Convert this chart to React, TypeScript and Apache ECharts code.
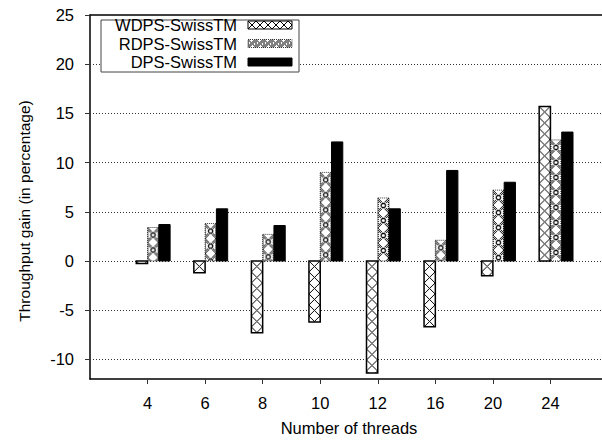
import React, { useEffect, useRef } from "react";
import * as echarts from "echarts";

// Thread counts on the x axis and throughput gain (%) for each variant
const THREADS = ["4", "6", "8", "10", "12", "16", "20", "24"];
const WDPS = [-0.25, -1.2, -7.3, -6.2, -11.4, -6.7, -1.5, 15.7];
const RDPS = [3.4, 3.8, 2.7, 9.0, 6.4, 2.1, 7.2, 12.3];
const DPS = [3.7, 5.3, 3.6, 12.1, 5.3, 9.2, 8.0, 13.1];
const SERIES_NAMES = ["WDPS-SwissTM", "RDPS-SwissTM", "DPS-SwissTM"];
const Y_TICKS = [-10, -5, 0, 5, 10, 15, 20, 25];
const GRID_LINES = [-10, -5, 0, 5, 10, 15, 20];

const FONT = "'Liberation Sans', Arial, Helvetica, sans-serif";
const BAR_SPAN = 0.196; // width of one bar, in category units

// Crisp one-pixel X hatch tile
function crossHatch(w: number, h: number) {
  const c = document.createElement("canvas");
  c.width = w;
  c.height = h;
  const g = c.getContext("2d")!;
  g.fillStyle = "#fff";
  g.fillRect(0, 0, w, h);
  g.fillStyle = "#000";
  for (let i = 0; i < h; i++) {
    const x = Math.round((i / (h - 1)) * (w - 1));
    g.fillRect(x, i, 1, 1);
    g.fillRect(w - 1 - x, i, 1, 1);
  }
  return { image: c, repeat: "repeat" as const };
}

// Dithered dot tile with a small ring in its middle
function dottedRing(w: number, h: number, ring: boolean) {
  const c = document.createElement("canvas");
  c.width = w;
  c.height = h;
  const g = c.getContext("2d")!;
  g.fillStyle = "#fff";
  g.fillRect(0, 0, w, h);
  g.fillStyle = "#000";
  for (let y = 0; y < h; y++) {
    for (let x = 0; x < w; x++) {
      if ((x + y) % 2 === 0) {
        const d1 = Math.abs(x - (y * (w - 1)) / (h - 1));
        const d2 = Math.abs(w - 1 - x - (y * (w - 1)) / (h - 1));
        if (d1 < 2 || d2 < 2 || x === 0 || x === w - 1) g.fillRect(x, y, 1, 1);
      }
    }
  }
  if (ring) {
    g.fillStyle = "#fff";
    g.beginPath();
    g.arc(w / 2, h / 2, 3.2, 0, Math.PI * 2);
    g.fill();
    g.strokeStyle = "#000";
    g.lineWidth = 1.2;
    g.beginPath();
    g.arc(w / 2, h / 2, 2.2, 0, Math.PI * 2);
    g.stroke();
  }
  return { image: c, repeat: "repeat" as const };
}

export default function App() {
  const ref = useRef<HTMLDivElement>(null);

  useEffect(() => {
    if (!ref.current) return;
    const chart = echarts.init(ref.current, undefined, { renderer: "svg" });

    const hatch = crossHatch(11, 11);
    const dots = dottedRing(11, 15, true);
    const hatchSmall = crossHatch(8, 8);
    const dotsSmall = dottedRing(8, 8, false);

    const styles: any[] = [
      { fill: hatch, stroke: "#000", lineWidth: 1.5 },
      { fill: dots, stroke: "#333", lineWidth: 1, lineDash: [1, 1] },
      { fill: "#000", stroke: "#000", lineWidth: 1 },
    ];

    const makeRender = (slot: number) => (_params: any, api: any) => {
      const xi = api.value(0);
      const v = api.value(1);
      const base = api.coord([xi, 0]);
      const tip = api.coord([xi, v]);
      const w = api.size([BAR_SPAN, 0])[0];
      const left = base[0] + (slot - 1) * w;
      const top = Math.min(base[1], tip[1]);
      const h = Math.abs(base[1] - tip[1]);
      return {
        type: "rect",
        x: left,
        y: top,
        shape: { x: 0, y: 0, width: w, height: h },
        style: styles[slot],
      };
    };

    const toData = (vals: number[]) => vals.map((v, i) => [i + 1, v]);
    const allValues = [WDPS, RDPS, DPS];

    const series: any[] = allValues.map((vals, slot) => ({
      name: SERIES_NAMES[slot],
      type: "custom",
      z: 3,
      xAxisIndex: 0,
      renderItem: makeRender(slot),
      encode: { x: 0, y: 1 },
      data: toData(vals),
    }));
    series[0].markLine = {
      silent: true,
      z: 1,
      symbol: "none",
      label: { show: false },
      lineStyle: { color: "#333", width: 1, type: [1, 2] },
      data: GRID_LINES.map((y) => ({ yAxis: y })),
    };

    const legendX = 101;
    const legendY = 20;
    const rowY = [25, 43.5, 62];
    const legendFills: any[] = [
      { fill: hatchSmall, stroke: "#000", lineWidth: 1 },
      { fill: dotsSmall, stroke: "#333", lineWidth: 1, lineDash: [1, 1] },
      { fill: "#000", stroke: "#000", lineWidth: 1 },
    ];

    const graphic: any[] = [
      {
        type: "rect",
        z: 10,
        shape: { x: legendX, y: legendY, width: 198, height: 52 },
        style: { fill: "#fff", stroke: "#444", lineWidth: 1 },
      },
      ...SERIES_NAMES.map((name, i) => ({
        type: "text",
        z: 11,
        x: 237,
        y: rowY[i],
        style: {
          text: name,
          align: "right",
          verticalAlign: "middle",
          font: `16.5px ${FONT}`,
          fill: "#000",
        },
      })),
      ...SERIES_NAMES.map((_n, i) => ({
        type: "rect",
        z: 11,
        x: 248,
        y: rowY[i] - 4,
        shape: { x: 0, y: 0, width: 44, height: 8 },
        style: legendFills[i],
      })),
      {
        type: "text",
        z: 11,
        x: 24,
        y: 211,
        rotation: Math.PI / 2,
        style: {
          text: "Throughput gain (in percentage)",
          align: "center",
          verticalAlign: "middle",
          font: `15.5px ${FONT}`,
          fill: "#000",
        },
      },
    ];

    const ticks = [1, 2, 3, 4, 5, 6, 7, 8];

    chart.setOption({
      animation: false,
      backgroundColor: "#fff",
      grid: {
        left: 90,
        top: 15,
        right: -6,
        bottom: 61,
        outerBoundsMode: "none",
        containLabel: false,
        show: false,
      },
      xAxis: [
        {
          type: "value",
          min: 0,
          max: 9,
          position: "bottom",
          name: "Number of threads",
          nameLocation: "middle",
          nameGap: 40,
          nameTextStyle: { fontFamily: FONT, fontSize: 16.5, color: "#000" },
          axisLine: { onZero: false, lineStyle: { color: "#000", width: 1.5 } },
          axisTick: {
            show: true,
            inside: false,
            length: 5,
            customValues: ticks,
            lineStyle: { color: "#333", width: 1 },
          },
          axisLabel: {
            customValues: ticks,
            formatter: (v: number) => THREADS[Math.round(v) - 1] ?? "",
            margin: 15,
            fontFamily: FONT,
            fontSize: 16.5,
            color: "#000",
          },
          splitLine: { show: false },
        },
        {
          // top frame line
          type: "value",
          min: 0,
          max: 9,
          position: "top",
          axisLine: {
            show: true,
            onZero: false,
            lineStyle: { color: "#000", width: 1.5 },
          },
          axisTick: { show: false },
          axisLabel: { show: false },
          splitLine: { show: false },
        },
      ],
      yAxis: {
        type: "value",
        min: -12,
        max: 25,
        position: "left",
        axisLine: {
          show: true,
          onZero: false,
          lineStyle: { color: "#000", width: 1.5 },
        },
        axisTick: {
          show: true,
          inside: false,
          length: 5,
          customValues: Y_TICKS,
          lineStyle: { color: "#333", width: 1 },
        },
        axisLabel: {
          customValues: Y_TICKS,
          margin: 16,
          fontFamily: FONT,
          fontSize: 16.5,
          color: "#000",
        },
        splitLine: { show: false },
      },
      graphic,
      series,
    });

    return () => chart.dispose();
  }, []);

  return (
    <div
      ref={ref}
      style={{ position: "fixed", left: 0, top: 0, width: 602, height: 440 }}
    />
  );
}
